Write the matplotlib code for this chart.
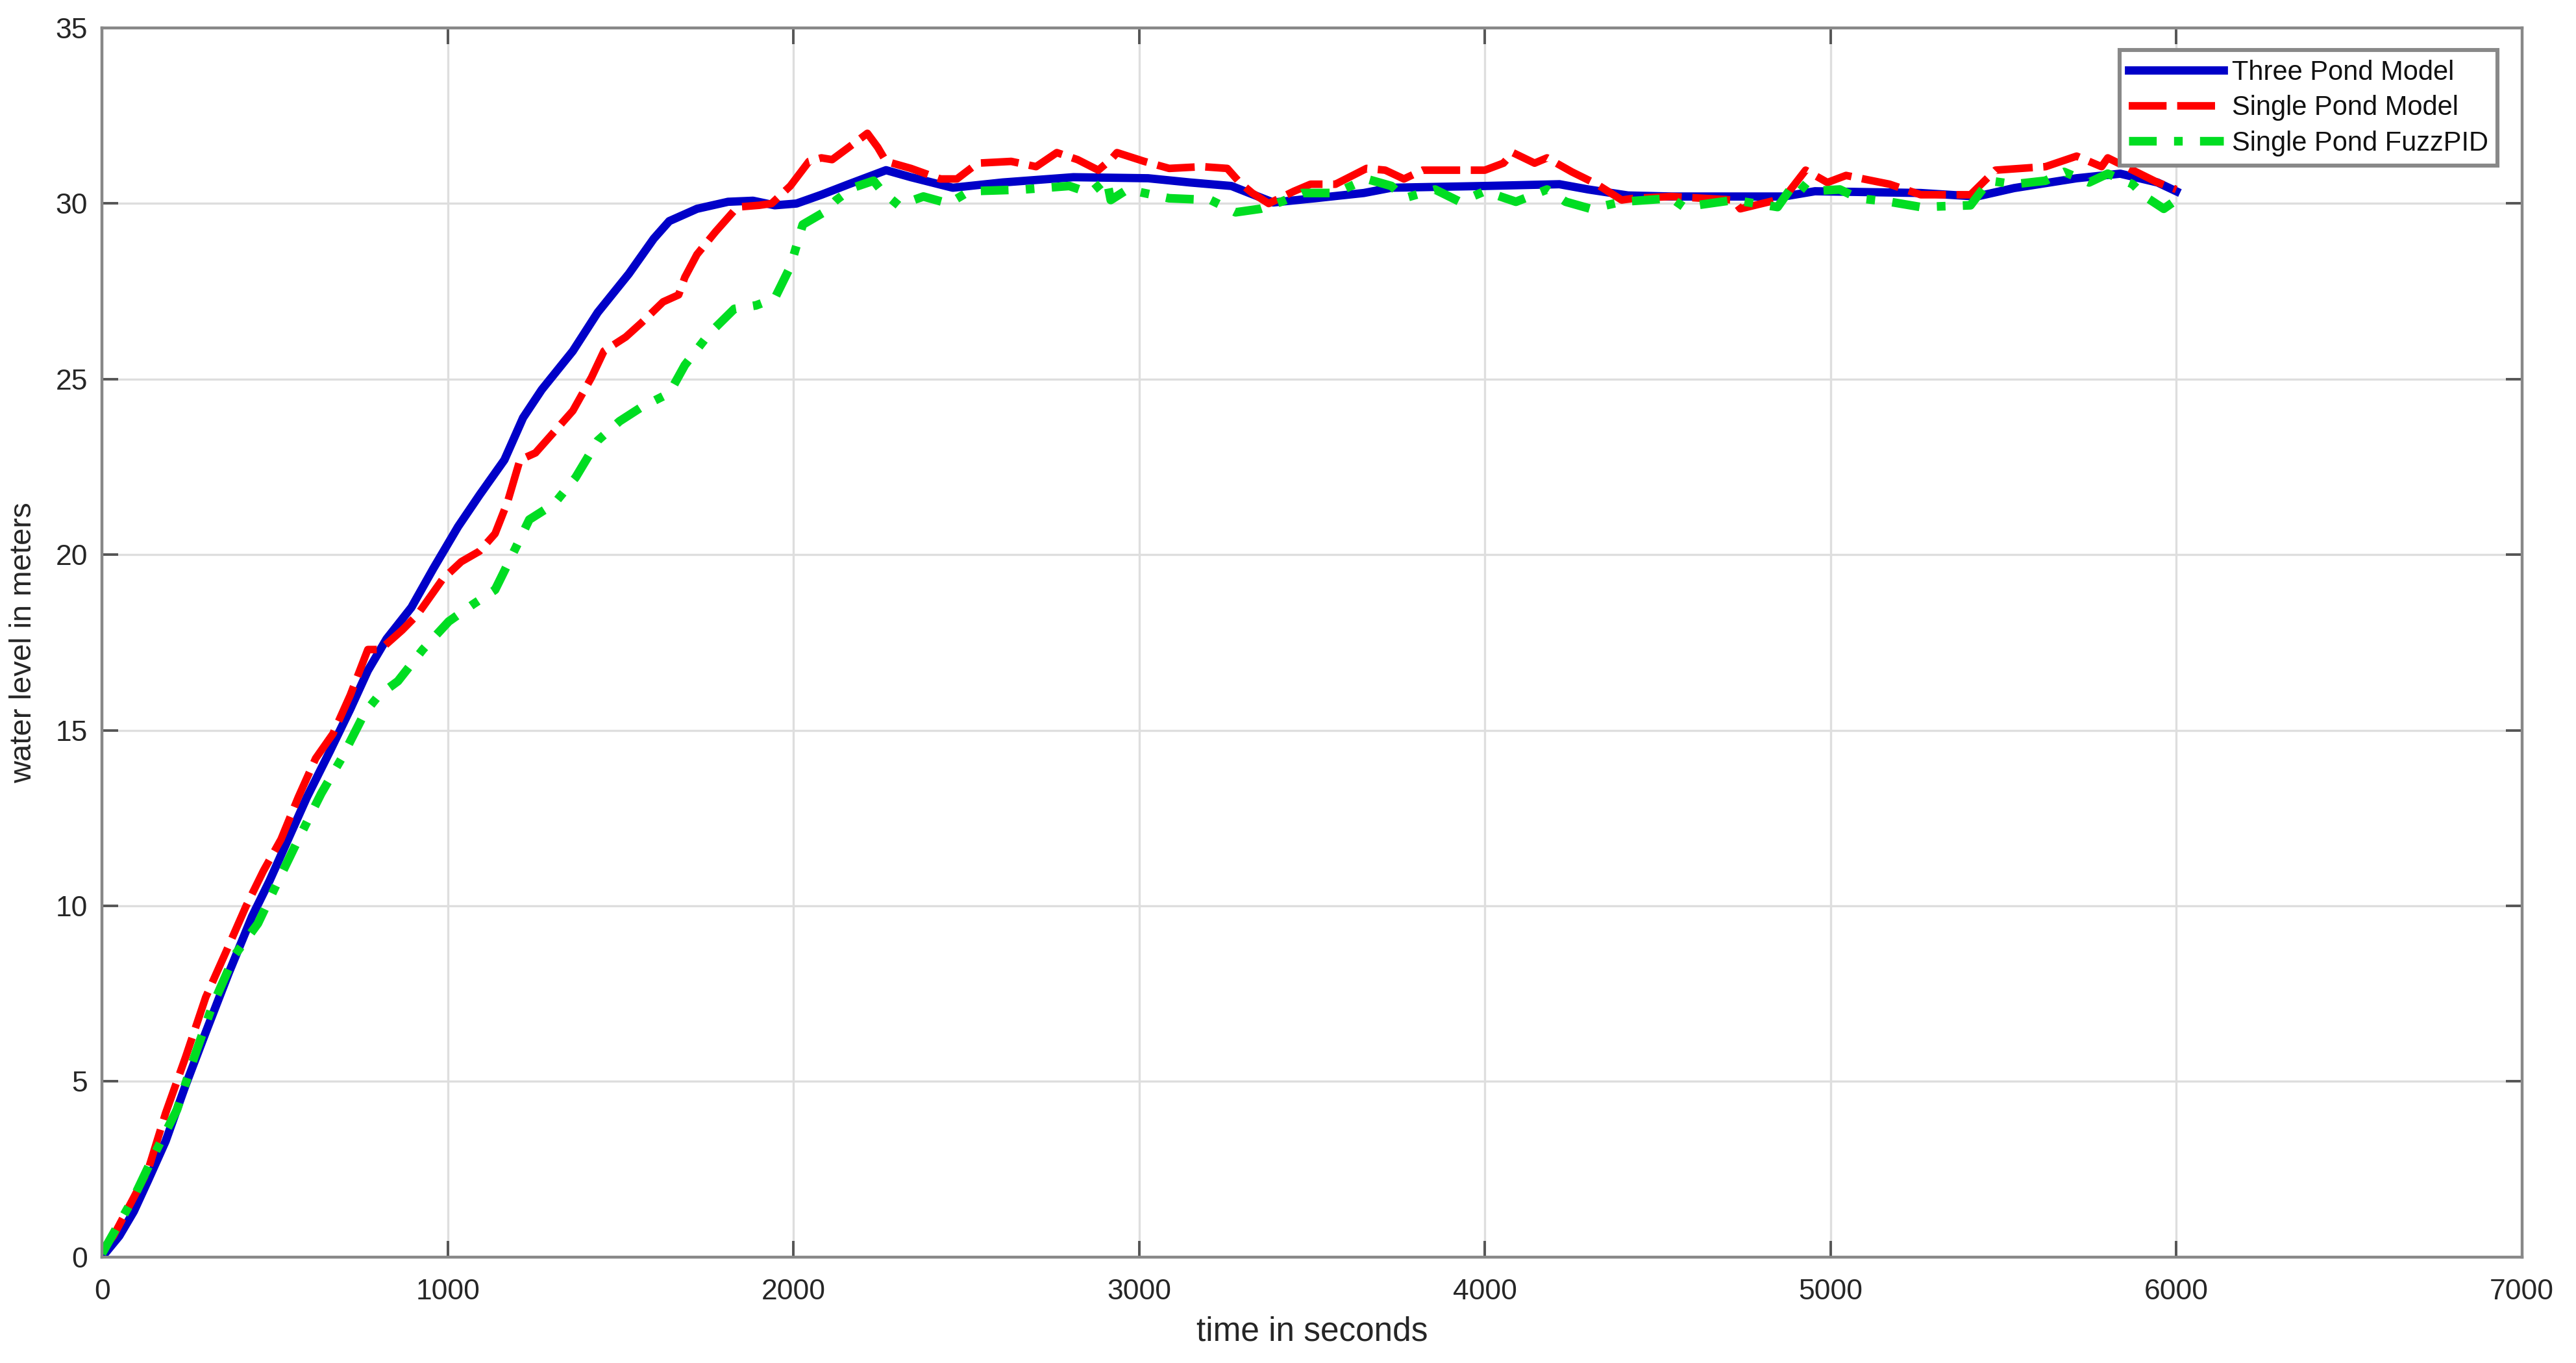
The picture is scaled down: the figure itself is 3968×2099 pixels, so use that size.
import matplotlib
matplotlib.use("Agg")
import matplotlib.pyplot as plt

plt.rcParams['font.family'] = ['Liberation Sans', 'DejaVu Sans']

# Three Pond Model (blue, solid)
t_three = [0, 50, 92, 134, 184, 242, 300, 367, 434, 484, 543, 593, 659, 718, 769, 823,
           895, 958, 1030, 1092, 1164, 1218, 1272, 1362, 1434, 1524, 1596, 1641, 1721,
           1811, 1883, 1946, 2009, 2081, 2160, 2268, 2340, 2461, 2605, 2810, 3026, 3147,
           3267, 3388, 3508, 3650, 3730, 4000, 4216, 4300, 4414, 4540, 4865, 4955, 5261,
           5423, 5531, 5712, 5838, 5946, 6000]
h_three = [0, 0.6, 1.3, 2.2, 3.3, 4.9, 6.4, 8.1, 9.7, 10.7, 12.0, 13.1, 14.4, 15.6, 16.7,
           17.6, 18.5, 19.6, 20.8, 21.7, 22.7, 23.9, 24.7, 25.8, 26.9, 28.0, 29.0, 29.5,
           29.85, 30.05, 30.08, 29.95, 30.0, 30.25, 30.55, 30.95, 30.75, 30.45, 30.6,
           30.75, 30.72, 30.6, 30.5, 30.03, 30.15, 30.3, 30.45, 30.5, 30.55, 30.4, 30.23,
           30.2, 30.2, 30.35, 30.3, 30.2, 30.44, 30.72, 30.85, 30.6, 30.35]

# Single Pond Model (red, dashed)
t_single = [0, 33, 92, 134, 184, 242, 300, 359, 417, 467, 518, 568, 618, 668, 718, 769,
            805, 868, 913, 985, 1039, 1092, 1137, 1173, 1209, 1254, 1308, 1362, 1416, 1452,
            1515, 1560, 1623, 1668, 1686, 1721, 1775, 1838, 1901, 1937, 1991, 2045, 2081,
            2112, 2160, 2214, 2244, 2268, 2340, 2425, 2473, 2533, 2630, 2702, 2762, 2822,
            2882, 2918, 2936, 3015, 3087, 3183, 3255, 3291, 3327, 3375, 3448, 3496, 3568,
            3658, 3712, 3766, 3820, 4000, 4054, 4081, 4144, 4180, 4252, 4324, 4396, 4432,
            4540, 4720, 4739, 4865, 4928, 4991, 5045, 5171, 5261, 5405, 5477, 5622, 5712,
            5784, 5802, 5874, 5946, 6000]
h_single = [0.2, 0.6, 1.7, 2.5, 4.1, 5.7, 7.4, 8.7, 10.0, 11.0, 11.9, 13.1, 14.2, 14.9,
            16.0, 17.3, 17.3, 17.85, 18.3, 19.3, 19.8, 20.1, 20.6, 21.5, 22.7, 22.9, 23.5,
            24.1, 25.05, 25.8, 26.2, 26.6, 27.2, 27.4, 27.9, 28.55, 29.2, 29.9, 29.95, 30.0,
            30.5, 31.2, 31.3, 31.25, 31.6, 32.0, 31.6, 31.2, 31.0, 30.7, 30.7, 31.15, 31.2,
            31.05, 31.45, 31.25, 30.95, 31.25, 31.45, 31.2, 31.0, 31.05, 31.0, 30.6, 30.3,
            30.0, 30.35, 30.55, 30.55, 31.0, 30.95, 30.7, 30.95, 30.95, 31.15, 31.45, 31.15,
            31.3, 30.9, 30.55, 30.1, 30.15, 30.2, 30.1, 29.85, 30.15, 30.95, 30.6, 30.8,
            30.55, 30.25, 30.25, 30.95, 31.05, 31.35, 31.05, 31.3, 30.95, 30.6, 30.4]

# Single Pond FuzzPID (green, dash-dot)
t_fuzz = [0, 92, 150, 217, 267, 317, 384, 451, 509, 568, 634, 693, 760, 801, 856, 928,
          1003, 1075, 1137, 1182, 1236, 1308, 1370, 1434, 1497, 1560, 1641, 1686, 1757,
          1829, 1892, 1946, 1991, 2027, 2088, 2124, 2172, 2232, 2256, 2304, 2376, 2449,
          2509, 2665, 2798, 2858, 2906, 2918, 2966, 3087, 3207, 3279, 3351, 3411, 3472,
          3568, 3658, 3730, 3766, 3856, 3928, 4000, 4090, 4180, 4234, 4306, 4396, 4540,
          4576, 4720, 4847, 4901, 4937, 5027, 5081, 5171, 5261, 5405, 5459, 5531, 5622,
          5676, 5748, 5802, 5874, 5910, 5964, 6000]
h_fuzz = [0.1, 1.7, 2.9, 4.2, 5.7, 7.1, 8.6, 9.5, 10.7, 11.9, 13.2, 14.2, 15.5, 16.0, 16.4,
          17.3, 18.1, 18.6, 19.0, 19.9, 21.0, 21.45, 22.2, 23.25, 23.8, 24.2, 24.6, 25.4,
          26.3, 27.0, 27.1, 27.3, 28.2, 29.4, 29.75, 30.1, 30.45, 30.65, 30.35, 29.95, 30.2,
          30.0, 30.35, 30.4, 30.5, 30.3, 30.7, 30.1, 30.4, 30.15, 30.1, 29.75, 29.85, 30.05,
          30.3, 30.3, 30.7, 30.5, 30.15, 30.4, 30.05, 30.35, 30.05, 30.4, 30.05, 29.85,
          30.05, 30.15, 29.9, 30.1, 29.9, 30.65, 30.35, 30.4, 30.15, 30.05, 29.9, 29.95,
          30.65, 30.55, 30.65, 30.9, 30.6, 30.85, 30.55, 30.2, 29.85, 30.1]

x_ticks = [0, 1000, 2000, 3000, 4000, 5000, 6000, 7000]
y_ticks = [0, 5, 10, 15, 20, 25, 30, 35]

fig = plt.figure(figsize=(19.84, 10.495), dpi=200)
ax = fig.add_axes([0.0396, 0.0777, 0.9394, 0.9018])

ax.plot(t_three, h_three, color='#0000c8', lw=4.6, label='Three Pond Model')
ax.plot(t_single, h_single, color='#ff0000', lw=4.2, dashes=(5.0, 1.4), label='Single Pond Model')
ax.plot(t_fuzz, h_fuzz, color='#00dd22', lw=4.8, dashes=(3.2, 2.0, 1.0, 2.0), label='Single Pond FuzzPID')

ax.set_xlim(0, 7000)
ax.set_ylim(0, 35)
ax.set_xticks(x_ticks)
ax.set_yticks(y_ticks)
ax.grid(True, color='#dedede', lw=1.2)
ax.set_axisbelow(True)

for s in ax.spines.values():
    s.set_color('#888888')
    s.set_linewidth(1.6)
ax.tick_params(direction='in', length=9, width=1.4, color='#555555', labelsize=16,
               labelcolor='#262626', top=True, right=True)
ax.tick_params(axis='x', pad=12)
ax.tick_params(axis='y', pad=8)

ax.set_xlabel('time in seconds', fontsize=18.5, color='#262626', labelpad=6)
ax.set_ylabel('water level in meters', fontsize=17, color='#262626', labelpad=10)

leg = ax.legend(loc='upper right', bbox_to_anchor=(0.99, 0.982), fontsize=15, fancybox=False,
                framealpha=1, edgecolor='#888888', handlelength=3.5, handletextpad=0.3,
                borderpad=0.35, labelspacing=0.35, borderaxespad=0)
leg.get_frame().set_linewidth(2.2)
for t in leg.get_texts():
    t.set_color('#111111')

fig.savefig('out.png', dpi=200)
